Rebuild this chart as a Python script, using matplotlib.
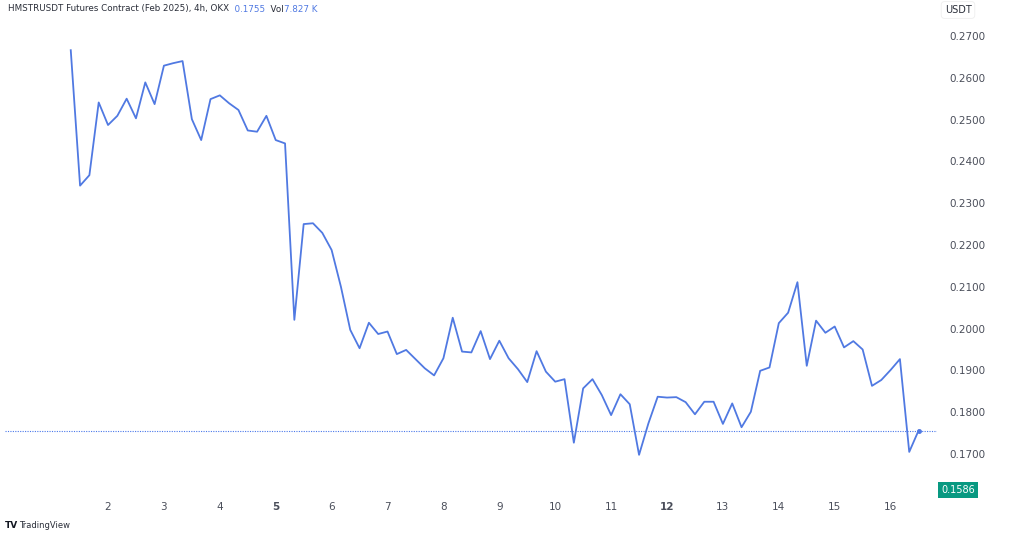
import matplotlib
matplotlib.use("Agg")
import matplotlib.pyplot as plt
import numpy as np

# HMSTRUSDT 4h closes, first bar Feb 1 08:00, one bar every 4 hours
closes = [
    0.2666, 0.2342, 0.2367, 0.2541, 0.2487, 0.2509, 0.2550, 0.2503, 0.2589, 0.2537,
    0.2629, 0.2635, 0.2640, 0.2501, 0.2451, 0.2549, 0.2558, 0.2539, 0.2523, 0.2474,
    0.2471, 0.2509, 0.2451, 0.2443,
    0.2021, 0.2250, 0.2252, 0.2229, 0.2188, 0.2100, 0.1997, 0.1953, 0.2014, 0.1987,
    0.1993, 0.1939, 0.1949, 0.1927, 0.1905, 0.1888, 0.1929, 0.2026, 0.1945, 0.1943,
    0.1994, 0.1927, 0.1971, 0.1929, 0.1903, 0.1872, 0.1946, 0.1897,
    0.1873, 0.1879, 0.1727, 0.1857, 0.1879, 0.1841, 0.1793, 0.1843, 0.1819, 0.1698,
    0.1773, 0.1837, 0.1835, 0.1836, 0.1824, 0.1795, 0.1825, 0.1825, 0.1772, 0.1821,
    0.1764, 0.1801, 0.1899, 0.1907, 0.2013, 0.2038, 0.2111, 0.1911, 0.2019, 0.1990,
    0.2005, 0.1955, 0.1970, 0.1950, 0.1863, 0.1877, 0.1901, 0.1927, 0.1705, 0.1756,
]
first_hour = 8
bar_hours = 4
day_ticks = list(range(2, 17))
bold_days = [5, 12]
price_ticks = [0.17, 0.18, 0.19, 0.20, 0.21, 0.22, 0.23, 0.24, 0.25, 0.26, 0.27]
last_price = 0.1755
tag_value = "0.1586"
volume = "7.827 K"
title = "HMSTRUSDT Futures Contract (Feb 2025), 4h, OKX"

line_blue = "#5079e2"
text_grey = "#4a4e5a"

days = 1 + (first_hour + bar_hours * np.arange(len(closes))) / 24.0

fig = plt.figure(figsize=(10.24, 5.38), dpi=100)
ax = fig.add_axes([5 / 1024, 1 - 495 / 538, 932 / 1024, 495 / 538])

ax.plot(days, closes, color=line_blue, lw=1.3)
ax.plot(days[-1], closes[-1], "o", color=line_blue, ms=2.5)
ax.axhline(last_price, color="#4a78ea", lw=0.8, ls=(0, (1, 1.2)))

ax.set_xlim(0.157, 16.83)
ax.set_ylim(0.16019, 0.27861)

ax.set_xticks(day_ticks)
ax.set_xticklabels([str(d) for d in day_ticks])
for lab, d in zip(ax.get_xticklabels(), day_ticks):
    if d in bold_days:
        lab.set_fontweight("bold")
ax.tick_params(axis="x", length=0, pad=5, labelsize=7.5, labelcolor=text_grey)

ax.yaxis.tick_right()
ax.set_yticks(price_ticks)
ax.set_yticklabels([f"{p:.4f}" for p in price_ticks])
ax.tick_params(axis="y", length=0, pad=9, labelsize=7.5, labelcolor=text_grey)

for s in ax.spines.values():
    s.set_visible(False)

# header line with the blue values chained after the title
t = fig.text(8 / 1024, 1 - 9 / 538, title, fontsize=6.3, color="#2a2e39", va="center")
a = ax.annotate("  " + f"{last_price:.4f}", xy=(1, 0.5), xycoords=t, fontsize=6.3,
                color=line_blue, va="center")
b = ax.annotate("  Vol", xy=(1, 0.5), xycoords=a, fontsize=6.3, color="#2a2e39", va="center")
ax.annotate(volume, xy=(1, 0.5), xycoords=b, fontsize=6.3, color=line_blue, va="center")

fig.text(958 / 1024, 1 - 10 / 538, "USDT", fontsize=7, color="#2a2e39", ha="center", va="center",
         bbox=dict(boxstyle="round,pad=0.35", fc="white", ec="#eeeeee", lw=0.6))

fig.text(958 / 1024, 1 - 490 / 538, tag_value, fontsize=7, color="white", ha="center", va="center",
         bbox=dict(boxstyle="square,pad=0.3", fc="#089981", ec="none"))

fig.text(5 / 1024, 1 - 525 / 538, "TV", fontsize=6.5, fontweight="bold", color="#131722", va="center")
fig.text(19 / 1024, 1 - 525 / 538, "TradingView", fontsize=6, color="#2a2e39", va="center")

fig.savefig("out.png", dpi=100, facecolor="white")
